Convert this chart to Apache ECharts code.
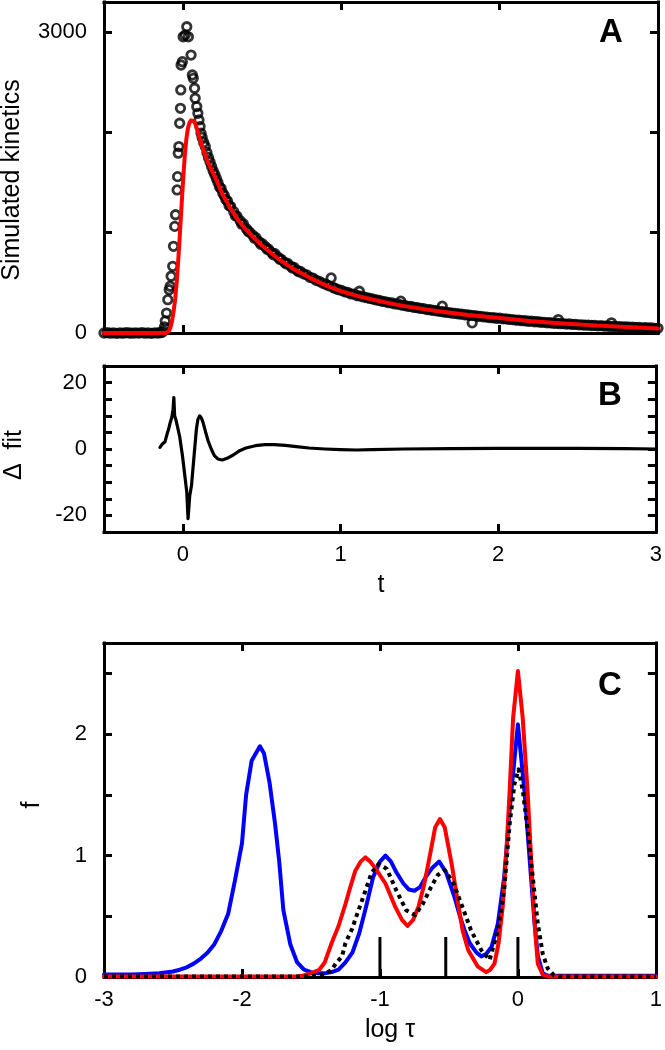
<!DOCTYPE html>
<html>
<head>
<meta charset="utf-8">
<script src="https://cdn.jsdelivr.net/npm/echarts@6/dist/echarts.min.js"></script>
<style>
html,body{margin:0;padding:0;background:#fff;}
#chart{width:665px;height:1050px;}
</style>
</head>
<body>
<div id="chart"></div>
<script>
// ---------- Panel A: simulated kinetics (circles) ----------
const baselinePoints = [[-0.5,0],[-0.48,3],[-0.46,-2],[-0.44,2],[-0.42,-3],[-0.4,1],[-0.38,-2],[-0.36,3],[-0.34,0],[-0.32,-2],[-0.3,2],[-0.28,-1],[-0.26,3],[-0.24,-2],[-0.22,1],[-0.2,-3],[-0.18,2],[-0.16,0],[-0.145,3],[-0.135,6]];
const risePoints = [[-0.125,20],[-0.118,60],[-0.113,120],[-0.105,199],[-0.097,332],[-0.088,431],[-0.082,466],[-0.076,566],[-0.066,665],[-0.061,864],[-0.053,1063],[-0.048,1179],[-0.038,1426],[-0.035,1559],[-0.031,1793],[-0.027,1859],[-0.022,2091],[-0.017,2240],[-0.015,2423],[-0.013,2672],[-0.005,2705],[0,2953],[0.013,2970],[0.023,3053],[0.033,2953],[0.05,2771],[0.058,2572],[0.064,2539],[0.072,2440],[0.076,2340],[0.086,2257],[0.093,2190],[0.1,2124],[0.107,2058],[0.113,1992],[0.12,1950],[0.13,1900],[0.14,1860],[0.15,1800],[0.16,1750],[0.17,1705],[0.18,1660],[0.19,1615]];
const decayPoints = [[0.2,1580],[0.21,1540],[0.22,1500],[0.23,1455],[0.24,1440],[0.25,1395],[0.26,1370],[0.27,1330],[0.28,1315],[0.29,1270],[0.3,1260],[0.32,1210],[0.33,1170],[0.34,1165],[0.36,1120],[0.37,1085],[0.38,1090],[0.4,1040],[0.41,1015],[0.42,1005],[0.44,975],[0.45,945],[0.46,950],[0.48,910],[0.49,885],[0.5,890],[0.52,860],[0.53,835],[0.54,835],[0.56,800],[0.57,780],[0.58,790],[0.6,755],[0.61,735],[0.62,735],[0.64,705],[0.65,690],[0.66,695],[0.68,665],[0.69,648],[0.7,655],[0.72,625],[0.73,610],[0.74,615],[0.76,590],[0.78,580],[0.8,555],[0.82,548],[0.84,525],[0.86,515],[0.88,498],[0.9,485],[0.92,470],[0.935,549],[0.95,452],[0.96,445],[0.98,432],[1.0,425],[1.02,410],[1.04,405],[1.06,390],[1.08,388],[1.1,372],[1.113,416],[1.12,368],[1.14,360],[1.16,352],[1.18,345],[1.2,338],[1.22,330],[1.24,325],[1.26,315],[1.28,311],[1.3,302],[1.32,299],[1.34,290],[1.36,287],[1.375,317],[1.38,278],[1.4,274],[1.42,266],[1.44,264],[1.46,255],[1.48,252],[1.5,245],[1.52,243],[1.54,234],[1.56,232],[1.58,225],[1.6,222],[1.62,216],[1.637,267],[1.64,212],[1.66,206],[1.68,204],[1.7,198],[1.72,196],[1.74,190],[1.76,188],[1.78,182],[1.8,180],[1.82,175],[1.826,101],[1.84,174],[1.86,167],[1.88,166],[1.9,160],[1.92,159],[1.94,153],[1.96,152],[1.98,147],[2.0,148],[2.02,141],[2.04,141],[2.06,135],[2.08,134],[2.1,129],[2.12,128],[2.14,123],[2.16,122],[2.18,117],[2.2,118],[2.22,112],[2.24,112],[2.26,107],[2.28,106],[2.3,102],[2.32,102],[2.34,97],[2.36,97],[2.37,134],[2.38,93],[2.4,94],[2.42,89],[2.44,90],[2.46,85],[2.48,86],[2.5,82],[2.52,82],[2.54,78],[2.56,79],[2.58,75],[2.6,76],[2.62,72],[2.64,73],[2.66,69],[2.68,70],[2.7,66],[2.706,101],[2.72,67],[2.74,63],[2.76,64],[2.78,60],[2.8,61],[2.82,58],[2.84,58],[2.86,55],[2.88,56],[2.9,52],[2.92,53],[2.94,50],[2.96,50],[2.98,47],[3.0,47]];
// fit (red) in panel A
const fitCurve = [[-0.5,0],[-0.2,0],[-0.11,0],[-0.1,5],[-0.09,20],[-0.08,55],[-0.07,120],[-0.06,220],[-0.05,340],[-0.04,520],[-0.03,750],[-0.02,1000],[-0.01,1270],[0,1530],[0.01,1760],[0.02,1930],[0.03,2040],[0.04,2095],[0.05,2120],[0.06,2125],[0.07,2110],[0.08,2070],[0.09,2020],[0.1,1965],[0.12,1860],[0.14,1770],[0.16,1690],[0.18,1625],[0.2,1560],[0.25,1380],[0.3,1240],[0.35,1120],[0.4,1025],[0.45,945],[0.5,870],[0.6,740],[0.7,635],[0.8,550],[0.9,475],[1.0,415],[1.1,370],[1.2,332],[1.3,298],[1.4,268],[1.5,243],[1.6,220],[1.7,200],[1.8,180],[1.9,164],[2.0,150],[2.2,118],[2.4,95],[2.6,76],[2.8,60],[3.0,46]];

// ---------- Panel B: residuals ----------
const residualCurve = [[-0.145,0.5],[-0.13,1.5],[-0.113,2.2],[-0.1,4.5],[-0.09,6],[-0.08,8],[-0.07,9.5],[-0.062,12],[-0.057,15.5],[-0.052,10],[-0.045,9],[-0.035,7],[-0.02,3.7],[-0.002,-2.2],[0.013,-8.2],[0.025,-13],[0.033,-21],[0.044,-14],[0.055,-11],[0.064,-6],[0.075,0],[0.086,6],[0.096,9],[0.107,10],[0.118,9.3],[0.128,8],[0.145,5],[0.16,2.5],[0.18,0],[0.2,-2],[0.222,-3],[0.25,-3.3],[0.28,-2.8],[0.32,-1.8],[0.36,-0.5],[0.4,0.3],[0.46,1],[0.52,1.3],[0.58,1.3],[0.65,1.1],[0.72,0.7],[0.8,0.3],[0.9,0],[1.0,-0.2],[1.1,-0.3],[1.2,-0.2],[1.4,0],[1.7,0.1],[2.0,0.2],[2.5,0.2],[2.8,0.1],[3.0,0]];

// ---------- Panel C: distributions ----------
const blueDist = [[-3,0.02],[-2.9,0.02],[-2.8,0.02],[-2.7,0.025],[-2.6,0.03],[-2.5,0.045],[-2.45,0.06],[-2.4,0.08],[-2.35,0.11],[-2.3,0.15],[-2.25,0.2],[-2.2,0.27],[-2.15,0.38],[-2.1,0.52],[-2.05,0.8],[-2.0,1.1],[-1.97,1.5],[-1.93,1.78],[-1.87,1.9],[-1.84,1.84],[-1.8,1.6],[-1.76,1.26],[-1.73,0.95],[-1.7,0.55],[-1.65,0.27],[-1.6,0.12],[-1.55,0.06],[-1.5,0.04],[-1.45,0.03],[-1.4,0.03],[-1.35,0.04],[-1.3,0.06],[-1.25,0.12],[-1.2,0.2],[-1.15,0.36],[-1.1,0.58],[-1.05,0.82],[-1.0,0.95],[-0.96,1.0],[-0.92,0.95],[-0.88,0.86],[-0.83,0.77],[-0.79,0.72],[-0.75,0.71],[-0.71,0.74],[-0.67,0.82],[-0.62,0.9],[-0.57,0.95],[-0.52,0.86],[-0.46,0.66],[-0.42,0.5],[-0.385,0.38],[-0.35,0.28],[-0.3,0.2],[-0.265,0.17],[-0.23,0.19],[-0.19,0.25],[-0.145,0.44],[-0.1,0.82],[-0.05,1.5],[0,2.08],[0.05,1.5],[0.095,0.82],[0.12,0.45],[0.145,0.17],[0.18,0.03],[0.22,0.01],[0.5,0.01],[1,0.01]];
const redDist = [[-3,0.005],[-2,0.005],[-1.6,0.005],[-1.56,0.01],[-1.5,0.03],[-1.44,0.06],[-1.4,0.12],[-1.35,0.28],[-1.3,0.42],[-1.25,0.6],[-1.22,0.72],[-1.18,0.87],[-1.14,0.95],[-1.106,0.985],[-1.07,0.95],[-1.03,0.89],[-0.96,0.77],[-0.89,0.58],[-0.84,0.47],[-0.8,0.42],[-0.76,0.47],[-0.72,0.58],[-0.68,0.76],[-0.65,0.93],[-0.6,1.23],[-0.565,1.3],[-0.53,1.23],[-0.48,0.93],[-0.43,0.58],[-0.4,0.38],[-0.36,0.22],[-0.29,0.085],[-0.23,0.04],[-0.2,0.06],[-0.17,0.11],[-0.14,0.28],[-0.11,0.58],[-0.085,1.0],[-0.06,1.53],[-0.035,2.13],[0,2.52],[0.035,2.13],[0.07,1.53],[0.09,1.1],[0.108,0.71],[0.125,0.38],[0.144,0.11],[0.18,0.02],[0.22,0.005],[1,0.005]];
const dottedDist = [[-3,0.005],[-1.5,0.005],[-1.42,0.02],[-1.39,0.03],[-1.35,0.06],[-1.32,0.11],[-1.275,0.17],[-1.25,0.28],[-1.2,0.4],[-1.18,0.47],[-1.13,0.63],[-1.06,0.86],[-1.01,0.93],[-0.95,0.89],[-0.88,0.71],[-0.81,0.55],[-0.745,0.51],[-0.69,0.6],[-0.63,0.74],[-0.58,0.84],[-0.53,0.88],[-0.47,0.78],[-0.41,0.6],[-0.34,0.385],[-0.265,0.22],[-0.205,0.14],[-0.145,0.385],[-0.1,0.71],[-0.06,1.26],[-0.025,1.59],[0.005,1.71],[0.036,1.53],[0.072,1.2],[0.108,0.82],[0.144,0.44],[0.18,0.19],[0.216,0.07],[0.26,0.015],[0.3,0.005],[1,0.005]];
const stickPositions = [-1, -0.523, 0];
const stickHeights = [0.33, 0.33, 0.33];

// ---------- ticks & labels ----------
const tickT = [0, 1, 2];
const labelT = [0, 1, 2, 3];
const tickA = [0, 1000, 2000, 3000];
const labelA = [0, 3000];
const tickB = [-20, -15, -10, -5, 0, 5, 10, 15, 20];
const labelB = [-20, 0, 20];
const tickCx = [-2, -1, 0];
const labelCx = [-3, -2, -1, 0, 1];
const tickCy = [0.5, 1, 1.5, 2, 2.5];
const labelCy = [0, 1, 2];

const FONT = '"Liberation Sans", Arial, Helvetica, sans-serif';
const lineW = 3;

function axis(gridIndex, position, min, max, ticks, labels, isY) {
  const showLabel = (position === 'bottom' || position === 'left') && labels.length > 0;
  return {
    type: 'value', gridIndex: gridIndex, position: position, min: min, max: max,
    axisLine: { show: true, onZero: false, lineStyle: { color: '#000', width: lineW, cap: 'square' } },
    axisTick: { show: true, inside: true, length: 8, customValues: ticks, lineStyle: { color: '#000', width: lineW } },
    axisLabel: { show: showLabel, customValues: labels, color: '#000', fontSize: 22, fontFamily: FONT, margin: isY ? 17 : 12,
      formatter: function (v) { return String(v); } },
    splitLine: { show: false }
  };
}

const xAxes = [
  axis(0, 'bottom', -0.5, 3, tickT, [], false),
  axis(0, 'top', -0.5, 3, tickT, [], false),
  axis(1, 'bottom', -0.5, 3, tickT, labelT, false),
  axis(1, 'top', -0.5, 3, tickT, [], false),
  axis(2, 'bottom', -3, 1, tickCx, labelCx, false),
  axis(2, 'top', -3, 1, tickCx, [], false)
];
const yAxes = [
  axis(0, 'left', 0, 3300, tickA, labelA, true),
  axis(0, 'right', 0, 3300, tickA, [], true),
  axis(1, 'left', -25, 25, tickB, labelB, true),
  axis(1, 'right', -25, 25, tickB, [], true),
  axis(2, 'left', 0, 2.75, tickCy, labelCy, true),
  axis(2, 'right', 0, 2.75, tickCy, [], true)
];

function lineSeries(data, xi, yi, color, width, z, dash) {
  return { type: 'line', xAxisIndex: xi, yAxisIndex: yi, data: data, showSymbol: false, symbol: 'none',
    smooth: false, z: z, silent: true,
    lineStyle: { color: color, width: width, type: dash || 'solid', cap: dash ? 'butt' : 'round', join: 'round' } };
}

const series = [
  { type: 'scatter', xAxisIndex: 0, yAxisIndex: 0, data: baselinePoints.concat(risePoints, decayPoints),
    symbol: 'circle', symbolSize: 8.5, clip: false, silent: true, z: 2,
    itemStyle: { color: 'rgba(0,0,0,0)', borderColor: '#000', borderWidth: 2.8 } },
  lineSeries(fitCurve, 0, 0, '#ff0000', 4, 5),
  lineSeries(residualCurve, 2, 2, '#000', 3.2, 5),
  lineSeries(blueDist, 4, 4, '#0000ff', 4, 5),
  lineSeries(redDist, 4, 4, '#ff0000', 4, 6),
  lineSeries(dottedDist, 4, 4, '#000', 4, 7, [4, 4])
];
stickPositions.forEach(function (p, i) {
  series.push(lineSeries([[p, 0], [p, stickHeights[i]]], 4, 4, '#000', 3, 8));
  series[series.length - 1].lineStyle.cap = 'butt';
});

function label(text, x, y, size, rot, bold) {
  return { type: 'text', x: x, y: y, rotation: rot || 0, silent: true, z: 100,
    style: { text: text, fill: '#000', font: (bold ? 'bold ' : '') + size + 'px ' + FONT,
      align: 'center', verticalAlign: 'middle', textAlign: 'center', textVerticalAlign: 'middle' } };
}

const chart = echarts.init(document.getElementById('chart'), null, { renderer: 'canvas' });
chart.setOption({
  animation: false,
  backgroundColor: '#fff',
  grid: [
    { left: 104, top: 2, width: 554, height: 331 },
    { left: 104, top: 366, width: 554, height: 166 },
    { left: 104, top: 643, width: 554, height: 334 }
  ],
  xAxis: xAxes,
  yAxis: yAxes,
  series: series,
  graphic: [
    label('Simulated kinetics', 12, 180, 25, Math.PI / 2, false),
    label('\u0394  fit', 14, 455, 25, Math.PI / 2, false),
    label('t', 381, 585, 25, 0, false),
    label('f', 32, 805, 25, Math.PI / 2, false),
    label('log \u03c4', 390, 1030, 25, 0, false),
    label('A', 611, 33, 33, 0, true),
    label('B', 610, 396, 33, 0, true),
    label('C', 610, 686, 33, 0, true)
  ]
});
</script>
</body>
</html>
